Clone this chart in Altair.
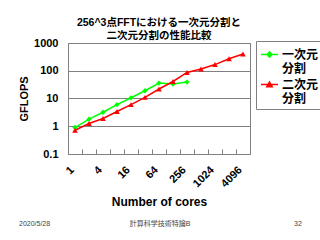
import altair as alt
import pandas as pd

cores = ["1", "2", "4", "8", "16", "32", "64", "128", "256", "512", "1024", "2048", "4096"]
shown_labels = ["1", "4", "16", "64", "256", "1024", "4096"]
series_names = ["一次元分割", "二次元分割"]
one_d = [0.9, 1.8, 3.2, 6.0, 10.6, 19, 36, 33, 39]
two_d = [0.72, 1.25, 1.9, 3.4, 6.0, 11, 22, 41, 87, 115, 167, 270, 400]
title_lines = ["256^3点FFTにおける一次元分割と", "二次元分割の性能比較"]
footer_left = "2020/5/28"
footer_mid = "計算科学技術特論B"
footer_right = "32"

rows = []
for c, v in zip(cores, one_d):
    rows.append({"cores": c, "gflops": v, "series": series_names[0]})
for c, v in zip(cores, two_d):
    rows.append({"cores": c, "gflops": v, "series": series_names[1]})
df = pd.DataFrame(rows)

FONT = "Liberation Sans, Noto Sans CJK JP, sans-serif"
GRAY = "#808080"
COLORS = ["#00ff00", "#ff0000"]

lbl_list = "[" + ",".join("'" + s + "'" for s in shown_labels) + "]"

xenc = alt.X(
    "cores:N",
    sort=cores,
    bandPosition=0.5,
    scale=alt.Scale(type="band", paddingInner=0, paddingOuter=0),
    axis=alt.Axis(
        title="Number of cores",
        titleFont=FONT, titleFontSize=12, titleFontWeight="bold", titleColor="black",
        titlePadding=8,
        labelExpr="indexof(" + lbl_list + ", datum.label) >= 0 ? datum.label : ''",
        labelAngle=-45, labelAlign="right", labelBaseline="middle",
        labelFont=FONT, labelFontSize=11, labelFontWeight="bold", labelColor="black",
        labelPadding=14, labelOffset=-3,
        tickBand="extent", tickSize=5, tickColor=GRAY, offset=-5,
        domain=False, grid=False, labelOverlap=False,
    ),
)
yenc = alt.Y(
    "gflops:Q",
    scale=alt.Scale(type="log", domain=[0.1, 1000]),
    axis=alt.Axis(
        title="GFLOPS", titleFont=FONT, titleFontSize=11, titleFontWeight="bold",
        titleColor="black", titlePadding=4,
        values=[0.1, 1, 10, 100, 1000], format="~g",
        labelFont=FONT, labelFontSize=11, labelFontWeight="bold", labelColor="black",
        labelPadding=10, ticks=False, domain=False,
        grid=True, gridColor=GRAY, gridWidth=1,
    ),
)

# legend symbols: short line plus marker
diamond_path = "M-1,0L1,0M0,-0.32L0.3,0L0,0.32L-0.3,0Z"
tri_path = "M-1,0L1,0M0,-0.32L0.34,0.28L-0.34,0.28Z"

legend_props = dict(
    title=None, orient="none", legendX=188, legendY=-2,
    fillColor="white", strokeColor=GRAY, padding=4,
    labelFont=FONT, labelFontSize=12, labelFontWeight="bold", labelColor="black",
    labelExpr="[substring(datum.label,0,3), substring(datum.label,3)]",
    labelBaseline="middle", rowPadding=-7, labelOffset=3,
    symbolSize=289, symbolStrokeWidth=1.3, symbolOpacity=1,
)

cscale = alt.Scale(domain=series_names, range=COLORS)
lines = alt.Chart(df).mark_line(strokeWidth=1.5).encode(
    x=xenc, y=yenc, color=alt.Color("series:N", scale=cscale, legend=alt.Legend(**legend_props)))
cenc = alt.Color("series:N", scale=cscale, legend=None)
pts1 = alt.Chart(df).transform_filter(alt.datum.series == series_names[0]).mark_point(
    filled=True, opacity=1, size=28, shape="diamond").encode(x=xenc, y=yenc, color=cenc)
pts2 = alt.Chart(df).transform_filter(alt.datum.series == series_names[1]).mark_point(
    filled=True, opacity=1, size=32, shape="triangle-up").encode(x=xenc, y=yenc, color=cenc)

# invisible layer that only supplies the legend symbol shapes
legend_layer = alt.Chart(df).mark_point(size=0, strokeWidth=0).encode(
    x=xenc, y=yenc,
    shape=alt.Shape("series:N", scale=alt.Scale(domain=series_names, range=[diamond_path, tri_path]),
                    legend=alt.Legend(**legend_props)),
)

def footer(txt, xv, align):
    return alt.Chart(alt.Data(values=[{}])).mark_text(
        text=txt, font=FONT, fontSize=7, color="#444444", align=align, baseline="middle"
    ).encode(x=alt.value(xv), y=alt.value(181))

chart = alt.layer(
    lines, pts1, pts2, legend_layer,
    footer(footer_left, -49, "left"),
    footer(footer_mid, 92, "center"),
    footer(footer_right, 230, "center"),
).properties(
    width=182, height=111,
    autosize=alt.AutoSizeParams(type="none"),
    padding={"left": 68, "top": 43, "right": 70, "bottom": 86},
    title=alt.Title(text=title_lines, font=FONT, fontSize=10.5, fontWeight="bold",
                    color="black", anchor="middle", frame="group", offset=-4, lineHeight=12.5),
).configure_view(stroke=GRAY, strokeWidth=1)

chart.save("out.html", embed_options={"renderer": "svg", "actions": False})
